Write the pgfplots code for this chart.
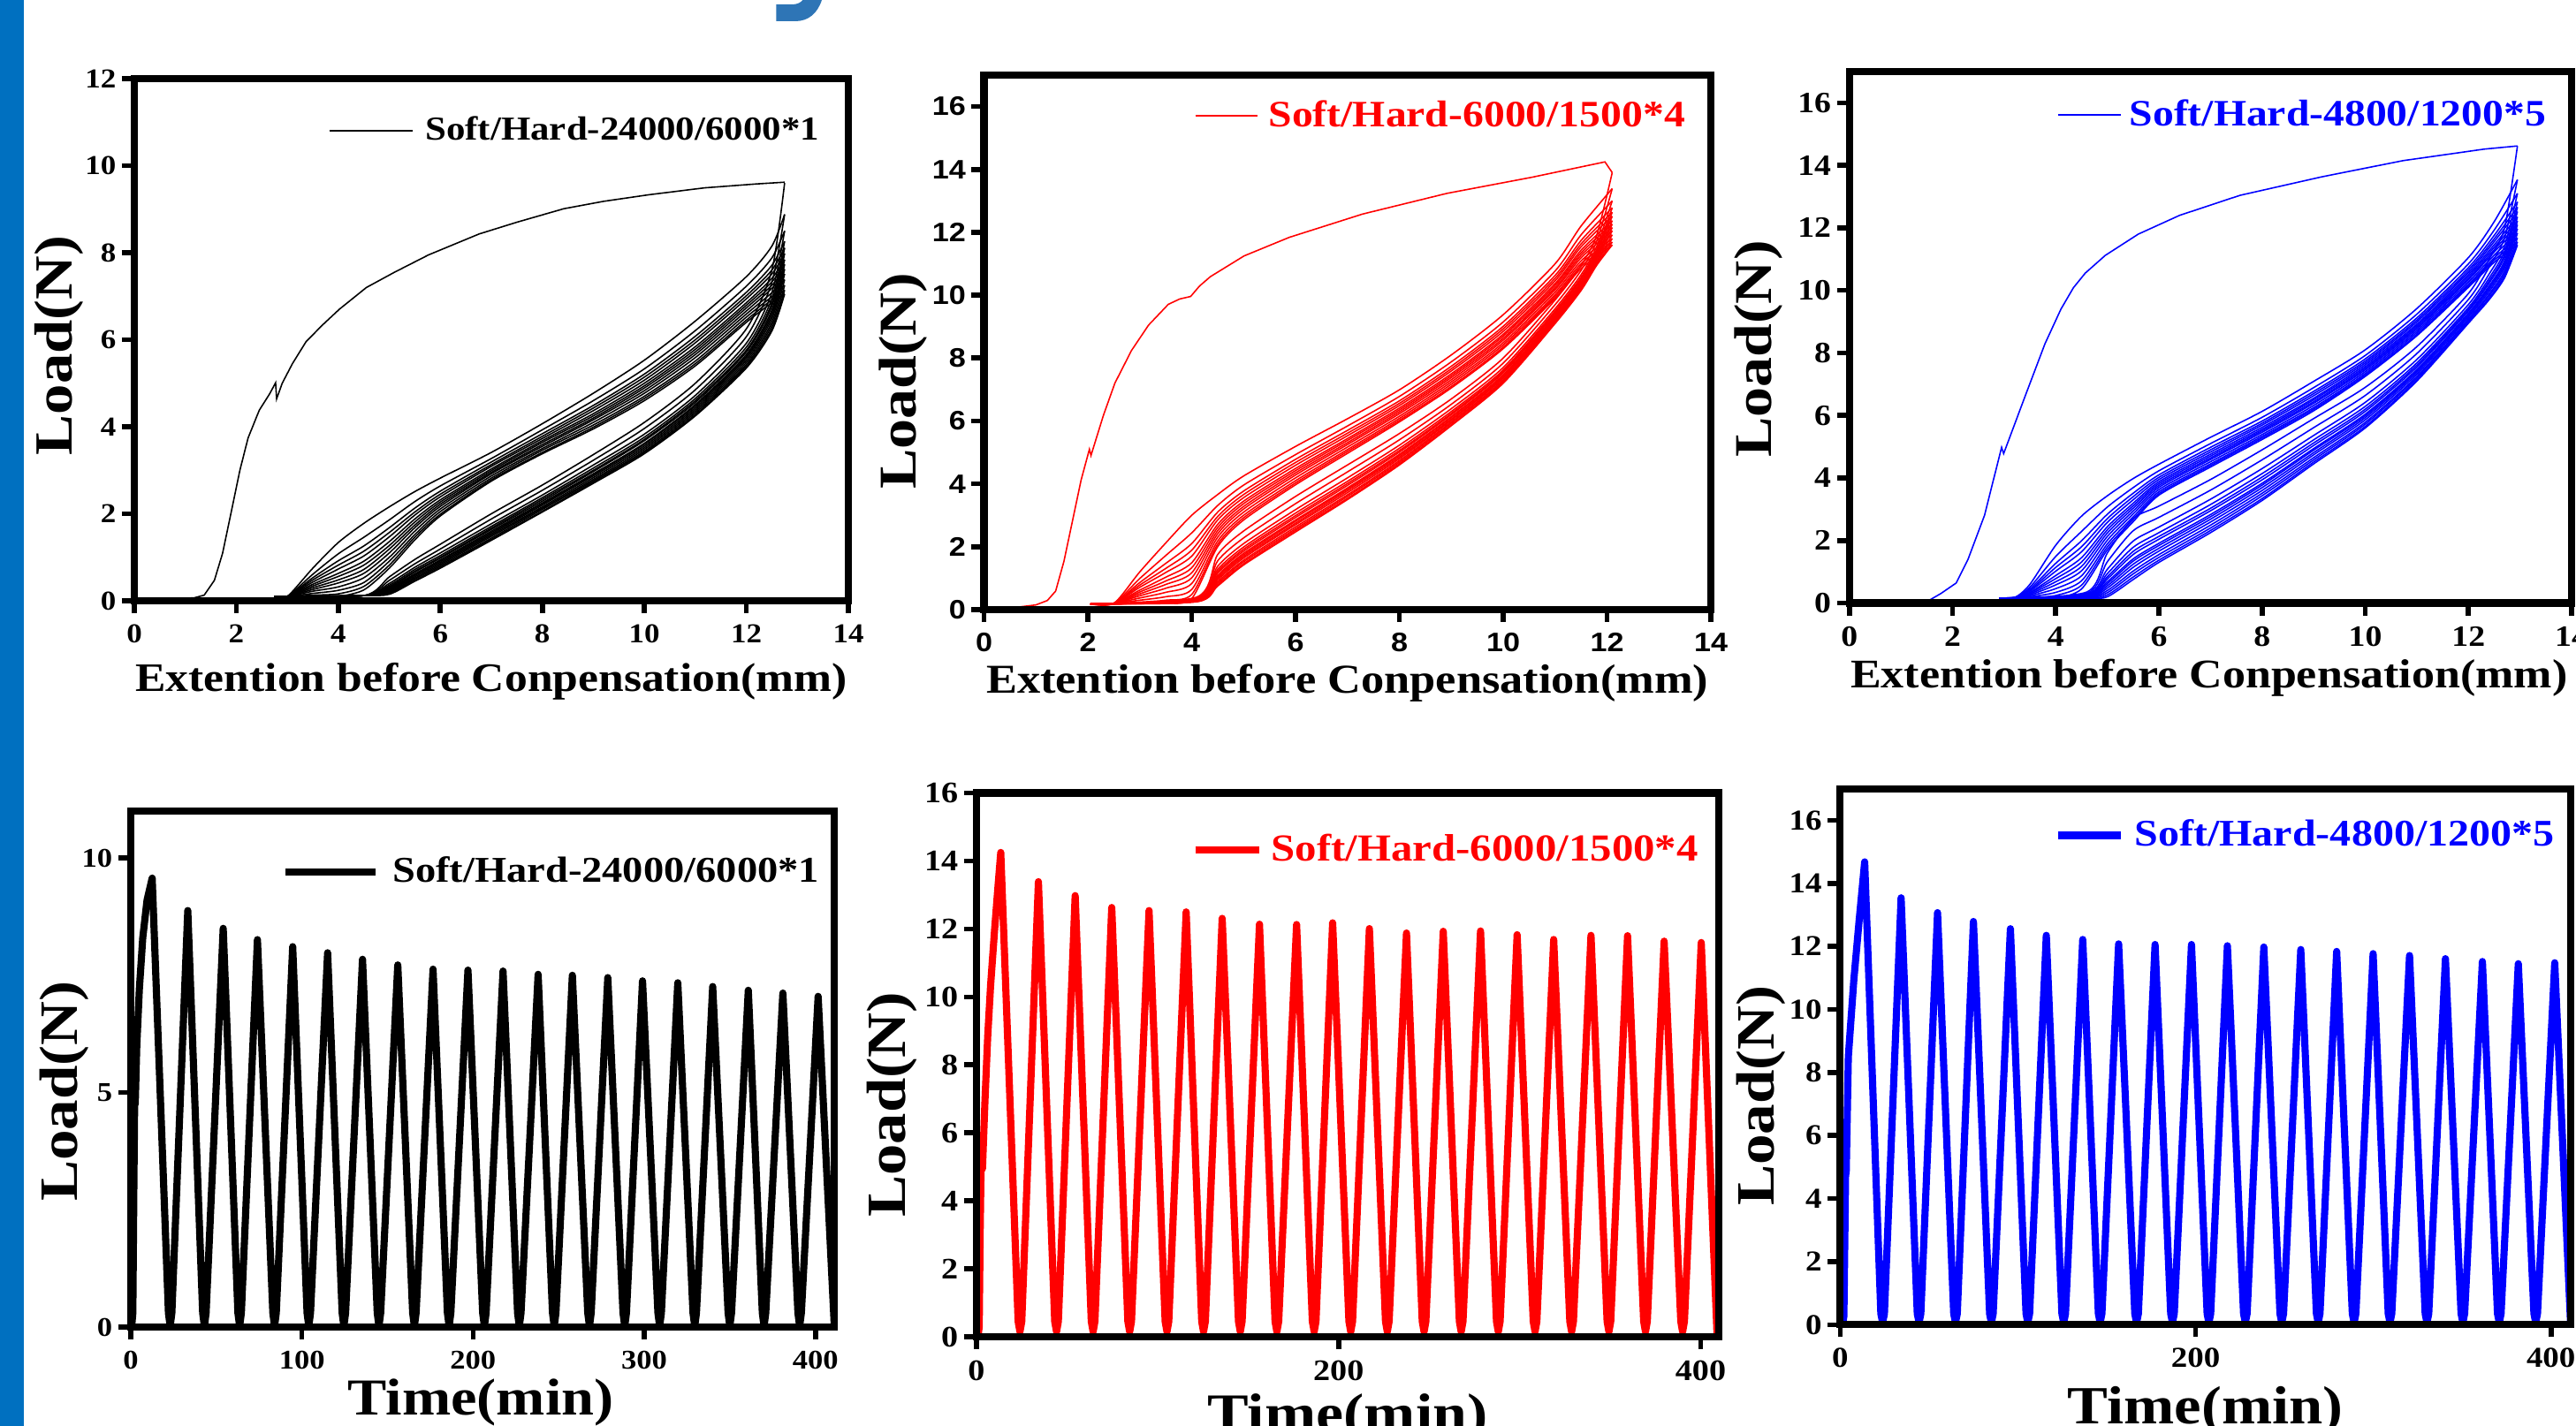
\documentclass[border=0pt]{standalone}
\usepackage{fontspec}
\setmainfont{Liberation Serif}[FakeStretch=1.13]
\newfontfamily\sansb{Liberation Sans}[FakeStretch=1.13]
\usepackage{pgfplots}
\usepackage{pgfplotstable}
\pgfplotsset{compat=1.18}
\newcommand\fs[1]{\fontsize{#1}{#1}\selectfont\bfseries}
\definecolor{barblue}{RGB}{0,112,192}
\definecolor{glyphblue}{RGB}{46,117,182}

\pgfplotsset{
  panel/.style={
    scale only axis, axis on top, anchor=south west,
    axis line style={line width=2.3pt},
    tick align=outside, tick pos=left,
    major tick length=4pt,
    major tick style={line width=1.6pt,black},
    /pgf/number format/assume math mode=true,
    xticklabel style={anchor=north,inner sep=0pt,yshift=-3.4pt},
    yticklabel style={anchor=east,inner sep=0pt,xshift=-1.7pt},
    legend cell align=left,
    legend style={draw=none,fill=none,inner sep=0pt,outer sep=0pt,anchor=west,
      nodes={inner sep=0pt}},
  },
  toploop/.style={line width=0.45pt, forget plot, smooth, tension=0.45},
  timeline/.style={line width=2.3pt, line join=round},
}

% ---------- Panel 1 (black) loops ----------
\pgfplotstableread{
X a b c d e f g h i j k l m
2.75 0.10 0.10 0.10 0.10 0.10 0.10 0.10 0.10 0.10 0.10 0.10 0.10 0.10
3.0 0.10 0.10 0.10 0.10 0.10 0.10 0.10 0.10 0.10 0.10 0.10 0.10 0.10
3.5 0.75 0.61 0.53 0.48 0.43 0.38 0.34 0.30 0.26 0.22 0.17 0.13 0.10
4.0 1.34 1.08 0.92 0.82 0.73 0.63 0.56 0.48 0.41 0.32 0.24 0.16 0.10
4.5 1.78 1.46 1.26 1.14 1.03 0.91 0.82 0.72 0.63 0.53 0.42 0.33 0.25
5.0 2.16 1.86 1.68 1.57 1.47 1.36 1.27 1.19 1.10 1.00 0.91 0.82 0.75
5.5 2.51 2.28 2.13 2.04 1.97 1.88 1.81 1.74 1.68 1.60 1.52 1.46 1.40
6.0 2.82 2.64 2.52 2.45 2.39 2.32 2.27 2.22 2.17 2.11 2.05 1.99 1.95
7.0 3.41 3.27 3.19 3.13 3.09 3.03 2.99 2.95 2.92 2.87 2.82 2.78 2.75
8.0 4.07 3.93 3.84 3.78 3.73 3.68 3.64 3.59 3.55 3.50 3.46 3.41 3.38
9.0 4.77 4.60 4.49 4.43 4.37 4.30 4.25 4.20 4.16 4.10 4.04 3.99 3.95
10.0 5.53 5.33 5.21 5.14 5.07 5.00 4.94 4.89 4.83 4.77 4.70 4.65 4.60
11.0 6.43 6.21 6.08 6.00 5.93 5.84 5.78 5.72 5.66 5.59 5.51 5.45 5.40
12.0 7.45 7.23 7.09 7.01 6.94 6.85 6.79 6.73 6.66 6.59 6.52 6.45 6.40
12.5 8.15 7.88 7.71 7.60 7.51 7.41 7.33 7.25 7.18 7.08 6.99 6.92 6.85
12.75 8.88 8.50 8.26 8.11 7.98 7.84 7.73 7.62 7.51 7.38 7.25 7.14 7.05
}\ldK
\pgfplotstableread{
X o a b c d e f g h i j k l m
12.75 9.60 8.88 8.50 8.26 8.11 7.98 7.84 7.73 7.62 7.51 7.38 7.25 7.14 7.05
12.5 7.60 7.32 7.08 6.94 6.84 6.77 6.68 6.62 6.55 6.48 6.40 6.33 6.26 6.20
12.0 6.25 6.07 5.92 5.83 5.76 5.72 5.66 5.62 5.58 5.53 5.48 5.43 5.39 5.35
11.0 5.00 4.85 4.72 4.65 4.60 4.56 4.51 4.48 4.44 4.40 4.36 4.32 4.28 4.25
10.0 4.10 3.96 3.83 3.76 3.71 3.68 3.62 3.60 3.56 3.52 3.48 3.44 3.41 3.38
9.0 3.36 3.23 3.12 3.05 3.00 2.97 2.92 2.90 2.87 2.83 2.79 2.76 2.73 2.70
8.0 2.66 2.54 2.43 2.37 2.33 2.29 2.25 2.23 2.20 2.16 2.13 2.10 2.06 2.04
7.0 2.00 1.88 1.77 1.71 1.67 1.64 1.60 1.57 1.54 1.51 1.48 1.44 1.41 1.39
6.0 1.30 1.19 1.10 1.04 1.00 0.98 0.94 0.92 0.89 0.86 0.83 0.80 0.77 0.75
5.5 0.95 0.85 0.77 0.72 0.68 0.66 0.62 0.60 0.58 0.55 0.52 0.50 0.47 0.45
5.0 0.55 0.47 0.40 0.36 0.33 0.31 0.29 0.27 0.25 0.23 0.21 0.19 0.17 0.15
4.5 0.12 0.12 0.12 0.12 0.12 0.12 0.12 0.12 0.12 0.12 0.12 0.12 0.12 0.12
2.75 0.10 0.10 0.10 0.10 0.10 0.10 0.10 0.10 0.10 0.10 0.10 0.10 0.10 0.10
}\ulK

% ---------- Panel 2 (red) loops ----------
\pgfplotstableread{
X a b c d e f g h i j k l m
2.05 0.18 0.18 0.18 0.18 0.18 0.18 0.18 0.18 0.18 0.18 0.18 0.18 0.18
2.5 0.20 0.20 0.20 0.20 0.20 0.20 0.20 0.20 0.20 0.20 0.20 0.20 0.20
3.0 1.20 0.99 0.86 0.78 0.71 0.62 0.56 0.50 0.44 0.37 0.30 0.24 0.19
3.5 2.12 1.72 1.47 1.31 1.18 1.03 0.91 0.80 0.68 0.55 0.41 0.30 0.20
4.0 3.00 2.44 2.10 1.89 1.70 1.49 1.33 1.17 1.01 0.83 0.64 0.48 0.35
4.5 3.66 3.31 3.10 2.96 2.85 2.71 2.61 2.51 2.41 2.30 2.18 2.08 2.00
5.0 4.25 3.96 3.77 3.66 3.56 3.45 3.37 3.28 3.20 3.10 3.00 2.92 2.85
6.0 5.19 4.93 4.78 4.68 4.59 4.49 4.42 4.35 4.28 4.19 4.10 4.03 3.97
7.0 6.07 5.84 5.70 5.61 5.53 5.44 5.38 5.31 5.25 5.17 5.09 5.03 4.97
8.0 6.99 6.78 6.64 6.56 6.49 6.41 6.35 6.29 6.23 6.15 6.08 6.02 5.97
9.0 8.10 7.88 7.74 7.66 7.59 7.50 7.44 7.38 7.31 7.24 7.17 7.10 7.05
10.0 9.38 9.15 9.01 8.93 8.85 8.76 8.70 8.63 8.57 8.49 8.42 8.35 8.30
11.0 11.00 10.77 10.63 10.54 10.46 10.37 10.31 10.24 10.18 10.10 10.02 9.96 9.90
11.5 12.20 11.92 11.74 11.63 11.54 11.43 11.35 11.27 11.19 11.09 11.00 10.92 10.85
12.1 13.39 13.00 12.78 12.64 12.51 12.37 12.26 12.15 12.05 11.92 11.80 11.69 11.60
}\ldR
\pgfplotstableread{
X o a b c d e f g h i j k l m
12.1 13.90 13.39 13.00 12.78 12.64 12.51 12.37 12.26 12.15 12.05 11.92 11.80 11.69 11.60
11.8 11.90 11.71 11.55 11.45 11.39 11.34 11.27 11.24 11.19 11.14 11.08 11.04 10.99 10.95
11.5 10.95 10.79 10.65 10.57 10.52 10.48 10.42 10.39 10.35 10.31 10.26 10.22 10.18 10.15
11.0 9.85 9.70 9.57 9.50 9.45 9.41 9.36 9.33 9.29 9.25 9.21 9.17 9.13 9.10
10.0 8.00 7.84 7.70 7.62 7.57 7.53 7.47 7.44 7.40 7.36 7.31 7.27 7.23 7.20
9.0 6.70 6.53 6.39 6.30 6.24 6.20 6.14 6.11 6.06 6.02 5.97 5.93 5.88 5.85
8.0 5.60 5.40 5.23 5.13 5.06 5.01 4.94 4.90 4.85 4.80 4.74 4.69 4.64 4.60
7.0 4.60 4.38 4.19 4.08 4.01 3.95 3.87 3.83 3.78 3.72 3.65 3.60 3.54 3.50
6.0 3.60 3.37 3.18 3.07 2.99 2.93 2.85 2.81 2.75 2.70 2.63 2.57 2.52 2.47
5.0 2.50 2.28 2.10 1.99 1.92 1.86 1.79 1.74 1.69 1.64 1.57 1.52 1.46 1.42
4.5 1.75 1.55 1.38 1.28 1.21 1.16 1.09 1.05 1.00 0.95 0.89 0.84 0.79 0.75
4.1 0.40 0.37 0.34 0.33 0.32 0.31 0.30 0.30 0.29 0.28 0.27 0.26 0.26 0.25
2.05 0.18 0.18 0.18 0.18 0.18 0.18 0.18 0.18 0.18 0.18 0.18 0.18 0.18 0.18
}\ulR

% ---------- Panel 3 (blue) loops ----------
\pgfplotstableread{
X a b c d e f g h i j k l m
2.9 0.15 0.15 0.15 0.15 0.15 0.15 0.15 0.15 0.15 0.15 0.15 0.15 0.15
3.2 0.17 0.17 0.17 0.17 0.17 0.17 0.17 0.17 0.17 0.17 0.17 0.17 0.17
3.5 0.60 0.51 0.45 0.41 0.38 0.34 0.32 0.29 0.26 0.23 0.20 0.17 0.15
4.0 1.85 1.49 1.27 1.14 1.02 0.88 0.78 0.68 0.58 0.46 0.34 0.24 0.15
4.5 2.78 2.29 1.99 1.80 1.64 1.45 1.31 1.17 1.03 0.87 0.71 0.57 0.45
5.0 3.43 3.07 2.84 2.70 2.58 2.44 2.34 2.24 2.13 2.01 1.89 1.79 1.70
5.5 3.98 3.69 3.51 3.40 3.30 3.19 3.11 3.03 2.94 2.85 2.75 2.67 2.60
6.0 4.44 4.23 4.10 4.02 3.95 3.88 3.82 3.76 3.70 3.63 3.56 3.50 3.45
7.0 5.30 5.10 4.98 4.90 4.83 4.76 4.70 4.64 4.59 4.52 4.45 4.40 4.35
8.0 6.13 5.94 5.82 5.75 5.69 5.62 5.56 5.51 5.46 5.39 5.33 5.28 5.23
9.0 7.09 6.89 6.77 6.70 6.63 6.55 6.50 6.44 6.39 6.32 6.25 6.20 6.15
10.0 8.10 7.92 7.81 7.74 7.68 7.62 7.56 7.51 7.46 7.40 7.34 7.29 7.25
11.0 9.42 9.24 9.12 9.05 8.99 8.92 8.87 8.82 8.77 8.71 8.65 8.59 8.55
12.0 11.05 10.85 10.73 10.65 10.58 10.51 10.45 10.39 10.34 10.27 10.20 10.15 10.10
12.5 12.20 11.93 11.76 11.65 11.56 11.46 11.38 11.30 11.23 11.13 11.04 10.97 10.90
12.95 13.54 13.10 12.83 12.66 12.52 12.35 12.22 12.10 11.97 11.83 11.68 11.55 11.45
}\ldB
\pgfplotstableread{
X o a b c d e f g h i j k l m
12.95 14.62 13.54 13.10 12.83 12.66 12.52 12.35 12.22 12.10 11.97 11.83 11.68 11.55 11.45
12.7 12.00 11.68 11.41 11.25 11.14 11.06 10.94 10.88 10.80 10.72 10.62 10.54 10.46 10.40
12.4 11.00 10.74 10.52 10.39 10.30 10.23 10.14 10.09 10.03 9.96 9.88 9.82 9.75 9.70
12.0 9.90 9.71 9.55 9.45 9.39 9.34 9.27 9.24 9.19 9.14 9.08 9.04 8.99 8.95
11.0 8.20 7.98 7.79 7.68 7.61 7.55 7.47 7.43 7.38 7.32 7.25 7.20 7.14 7.10
10.0 6.90 6.64 6.42 6.29 6.20 6.13 6.04 5.99 5.93 5.86 5.78 5.72 5.65 5.60
9.0 5.90 5.61 5.36 5.22 5.12 5.04 4.94 4.89 4.81 4.74 4.65 4.58 4.51 4.45
8.0 4.90 4.58 4.30 4.14 4.03 3.94 3.83 3.77 3.69 3.60 3.51 3.43 3.34 3.28
7.0 3.95 3.61 3.32 3.15 3.03 2.95 2.83 2.76 2.68 2.59 2.49 2.40 2.32 2.25
6.0 3.10 2.74 2.43 2.25 2.13 2.04 1.91 1.84 1.75 1.66 1.55 1.46 1.37 1.30
5.5 2.70 2.31 1.98 1.78 1.65 1.55 1.41 1.34 1.24 1.14 1.02 0.93 0.83 0.75
5.0 1.60 1.32 1.08 0.94 0.84 0.77 0.68 0.62 0.55 0.48 0.40 0.33 0.26 0.20
4.6 0.35 0.31 0.28 0.26 0.24 0.23 0.22 0.21 0.20 0.19 0.18 0.17 0.16 0.15
2.9 0.15 0.15 0.15 0.15 0.15 0.15 0.15 0.15 0.15 0.15 0.15 0.15 0.15 0.15
}\ulB

\begin{document}
\begin{tikzpicture}
\path[use as bounding box] (0,0) rectangle (29.15,-16.14);
\fill[barblue] (0,0) rectangle (0.27,-16.14);
\fill[glyphblue] (8.783,-0.05) -- (8.967,-0.05) .. controls (9.02,-0.05) and (9.06,-0.03) .. (9.083,0) -- (9.30,0) .. controls (9.25,-0.15) and (9.15,-0.24) .. (9.00,-0.24) -- (8.783,-0.24) -- cycle;

% ===== Panel 1 =====
\begin{axis}[panel, at={(1.52cm,-6.80cm)}, width=8.08cm, height=5.91cm,
  xmin=0, xmax=14, ymin=0, ymax=12, xtick={0,2,...,14}, ytick={0,2,...,12},
  tick label style={font=\fs{8.8}},
  xlabel={Extention before Conpensation(mm)}, ylabel={Load(N)},
  every axis x label/.style={at={(axis description cs:0.5,-0.1726)},anchor=base,font=\fs{13}},
  every axis y label/.style={at={(axis description cs:-0.105,0.489)},rotate=90,anchor=center,font=\fs{17.3}},
  legend style={at={(axis description cs:0.272,0.900)},font=\fs{10.8},column sep=0.14cm},
  legend image code/.code={\draw[#1] (0cm,0cm) -- (0.94cm,0cm);},
]
\addplot[black, line width=0.45pt] coordinates {(0,0.02) (0.6,0.03) (1.18,0.07) (1.37,0.13) (1.57,0.47) (1.73,1.09) (1.9,2.04) (2.07,3.0) (2.23,3.74) (2.45,4.38) (2.65,4.75) (2.77,5.01) (2.79,4.64) (2.9,5.0) (3.1,5.45) (3.37,5.96) (3.7,6.35) (4.02,6.7) (4.55,7.2) (5.1,7.55) (5.77,7.95) (6.76,8.43) (7.5,8.7) (8.42,9.01) (9.2,9.18) (10.08,9.33) (11.18,9.49) (12.2,9.58) (12.75,9.62)};
\addlegendentry{Soft/Hard-24000/6000*1}
\pgfplotsinvokeforeach{a,b,c,d,e,f,g,h,i,j,k,l,m}{\addplot[black,toploop] table[x=X,y=#1]{\ldK};}
\pgfplotsinvokeforeach{o,a,b,c,d,e,f,g,h,i,j,k,l,m}{\addplot[black,toploop] table[x=X,y=#1]{\ulK};}
\end{axis}

% ===== Panel 2 =====
\begin{axis}[panel, at={(11.135cm,-6.90cm)}, width=8.225cm, height=6.05cm,
  xmin=0, xmax=14, ymin=0, ymax=17, xtick={0,2,...,14}, ytick={0,2,...,16},
  tick label style={font=\sansb\fontsize{8.6}{9}\selectfont\bfseries},
  xlabel={Extention before Conpensation(mm)}, ylabel={Load(N)},
  every axis x label/.style={at={(axis description cs:0.5,-0.157)},anchor=base,font=\fs{13.2}},
  every axis y label/.style={at={(axis description cs:-0.111,0.428)},rotate=90,anchor=center,font=\fs{17.1}},
  legend style={at={(axis description cs:0.29,0.924)},font=\fs{12},text=red,column sep=0.12cm},
  legend image code/.code={\draw[#1] (0cm,0cm) -- (0.70cm,0cm);},
]
\addplot[red, line width=0.45pt] coordinates {(0,0.02) (0.5,0.05) (1.0,0.15) (1.22,0.29) (1.38,0.59) (1.54,1.54) (1.7,2.79) (1.87,4.12) (2.03,5.1) (2.06,4.9) (2.3,6.18) (2.52,7.2) (2.84,8.24) (3.17,9.05) (3.55,9.71) (3.77,9.88) (3.98,9.96) (4.15,10.29) (4.36,10.59) (5.01,11.25) (5.88,11.84) (7.29,12.58) (8.92,13.24) (10.55,13.75) (11.96,14.24) (12.1,13.9)};
\addlegendentry{Soft/Hard-6000/1500*4}
\pgfplotsinvokeforeach{a,b,c,d,e,f,g,h,i,j,k,l,m}{\addplot[red,toploop] table[x=X,y=#1]{\ldR};}
\pgfplotsinvokeforeach{o,a,b,c,d,e,f,g,h,i,j,k,l,m}{\addplot[red,toploop] table[x=X,y=#1]{\ulR};}
\end{axis}

% ===== Panel 3 =====
\begin{axis}[panel, at={(20.928cm,-6.825cm)}, width=8.172cm, height=6.015cm,
  xmin=0, xmax=14, ymin=0, ymax=17, xtick={0,2,...,14}, ytick={0,2,...,16},
  tick label style={font=\fs{9.5}},
  xlabel={Extention before Conpensation(mm)}, ylabel={Load(N)},
  every axis x label/.style={at={(axis description cs:0.498,-0.160)},anchor=base,font=\fs{13.1}},
  every axis y label/.style={at={(axis description cs:-0.126,0.478)},rotate=90,anchor=center,font=\fs{17.1}},
  legend style={at={(axis description cs:0.288,0.9185)},font=\fs{12},text=blue,column sep=0.09cm},
  legend image code/.code={\draw[#1] (0cm,0cm) -- (0.71cm,0cm);},
]
\addplot[blue, line width=0.45pt] coordinates {(0,0.02) (0.8,0.04) (1.56,0.1) (1.77,0.3) (2.07,0.64) (2.3,1.4) (2.62,2.81) (2.95,4.98) (2.99,4.78) (3.4,6.59) (3.79,8.29) (4.1,9.4) (4.34,10.08) (4.57,10.55) (4.96,11.12) (5.6,11.8) (6.4,12.4) (7.57,13.04) (9.15,13.63) (10.73,14.15) (12.31,14.52) (12.95,14.62)};
\addlegendentry{Soft/Hard-4800/1200*5}
\pgfplotsinvokeforeach{a,b,c,d,e,f,g,h,i,j,k,l,m}{\addplot[blue,toploop] table[x=X,y=#1]{\ldB};}
\pgfplotsinvokeforeach{o,a,b,c,d,e,f,g,h,i,j,k,l,m}{\addplot[blue,toploop] table[x=X,y=#1]{\ulB};}
\end{axis}

% ===== Panel 4 =====
\begin{axis}[panel, at={(1.48cm,-15.02cm)}, width=7.96cm, height=5.84cm,
  xmin=0, xmax=411, ymin=0, ymax=11, xtick={0,100,...,400}, ytick={0,5,10},
  tick label style={font=\fs{8.7}},
  xlabel={Time(min)}, ylabel={Load(N)},
  every axis x label/.style={at={(axis description cs:0.4975,-0.170)},anchor=base,font=\fs{16.7}},
  every axis y label/.style={at={(axis description cs:-0.094,0.457)},rotate=90,anchor=center,font=\fs{17.4}},
  legend style={at={(axis description cs:0.215,0.882)},font=\fs{11.7},column sep=0.15cm},
  legend image code/.code={\draw[#1] (0cm,0cm) -- (1.02cm,0cm);},
]
\addplot[black, timeline] coordinates {(0.5,0) (1.2,0.3) (1.8,3.0) (2.3,5.0) (2.6,4.75) (3.5,6.0) (5,7.2) (7,8.3) (9.5,9.1) (12.5,9.57)
(22,0.3) (23,0.02) (24,0.3) (33.3,8.88)
(42,0.3) (43,0.02) (44,0.3) (54,8.50)
(62.6,0.3) (63.6,0.02) (64.6,0.3) (74,8.26)
(83,0.3) (84,0.02) (85,0.3) (94.6,8.11)
(103,0.3) (104,0.02) (105,0.3) (115,7.98)
(123.5,0.3) (124.5,0.02) (125.5,0.3) (135.4,7.84)
(144,0.3) (145,0.02) (146,0.3) (156,7.72)
(164.7,0.3) (165.7,0.02) (166.7,0.3) (176.6,7.63)
(185,0.3) (186,0.02) (187,0.3) (197,7.61)
(205.6,0.3) (206.6,0.02) (207.6,0.3) (217.5,7.59)
(226,0.3) (227,0.02) (228,0.3) (238,7.52)
(246.4,0.3) (247.4,0.02) (248.4,0.3) (258,7.50)
(267,0.3) (268,0.02) (269,0.3) (278.7,7.45)
(287.6,0.3) (288.6,0.02) (289.6,0.3) (299,7.38)
(308,0.3) (309,0.02) (310,0.3) (319.6,7.34)
(328.5,0.3) (329.5,0.02) (330.5,0.3) (340,7.26)
(349,0.3) (350,0.02) (351,0.3) (360.8,7.18)
(369,0.3) (370,0.02) (371,0.3) (381,7.12)
(389.8,0.3) (390.8,0.02) (391.8,0.3) (401.6,7.05)
(411,0.05)};
\addlegendentry{Soft/Hard-24000/6000*1}
\end{axis}

% ===== Panel 5 =====
\begin{axis}[panel, at={(11.05cm,-15.13cm)}, width=8.40cm, height=6.155cm,
  xmin=0, xmax=410, ymin=0, ymax=16, xtick={0,200,400}, ytick={0,2,...,16},
  tick label style={font=\fs{9.6}},
  xlabel={Time(min)}, ylabel={Load(N)},
  every axis x label/.style={at={(axis description cs:0.5,-0.175)},anchor=base,font=\fs{17.6}},
  every axis y label/.style={at={(axis description cs:-0.114,0.427)},rotate=90,anchor=center,font=\fs{17.8}},
  legend style={at={(axis description cs:0.29,0.895)},font=\fs{12.3},text=red,column sep=0.10cm},
  legend image code/.code={\draw[#1] (0cm,0cm) -- (0.72cm,0cm);},
]
\addplot[red, timeline] coordinates {(0.8,0) (1.5,0.3) (2.0,3.0) (2.5,4.9) (3.3,4.95) (4.7,6.98) (6.2,8.85) (7.8,10.35) (10,11.98) (11.8,13.2) (13.4,14.25)
(23,0.45) (24,0.15) (25,0.45) (34.2,13.39)
(43.2,0.45) (44.2,0.15) (45.2,0.45) (54.5,12.98)
(63.4,0.45) (64.4,0.15) (65.4,0.45) (74.7,12.63)
(83.6,0.45) (84.6,0.15) (85.6,0.45) (95.3,12.54)
(104.2,0.45) (105.2,0.15) (106.2,0.45) (115.8,12.50)
(124.4,0.45) (125.4,0.15) (126.4,0.45) (135.7,12.31)
(144.7,0.45) (145.7,0.15) (146.7,0.45) (156.3,12.14)
(164.9,0.45) (165.9,0.15) (166.9,0.45) (176.8,12.13)
(185.5,0.45) (186.5,0.15) (187.5,0.45) (196.7,12.18)
(205.7,0.45) (206.7,0.15) (207.7,0.45) (217,12.01)
(225.9,0.45) (226.9,0.15) (227.9,0.45) (237.5,11.88)
(246.2,0.45) (247.2,0.15) (248.2,0.45) (257.8,11.93)
(266.7,0.45) (267.7,0.15) (268.7,0.45) (278.4,11.94)
(287.2,0.45) (288.2,0.15) (289.2,0.45) (298.6,11.83)
(307.5,0.45) (308.5,0.15) (309.5,0.45) (318.8,11.69)
(327.7,0.45) (328.7,0.15) (329.7,0.45) (339.4,11.81)
(348.3,0.45) (349.3,0.15) (350.3,0.45) (359.6,11.80)
(368.5,0.45) (369.5,0.15) (370.5,0.45) (379.8,11.64)
(389,0.45) (390,0.15) (391,0.45) (400.3,11.60)
(409,0.1)};
\addlegendentry{Soft/Hard-6000/1500*4}
\end{axis}

% ===== Panel 6 =====
\begin{axis}[panel, at={(20.823cm,-14.994cm)}, width=8.265cm, height=6.067cm,
  xmin=0, xmax=411, ymin=0, ymax=17, xtick={0,200,400}, ytick={0,2,...,16},
  tick label style={font=\fs{9.3}},
  xlabel={Time(min)}, ylabel={Load(N)},
  every axis x label/.style={at={(axis description cs:0.5,-0.184)},anchor=base,font=\fs{17.3}},
  every axis y label/.style={at={(axis description cs:-0.108,0.4275)},rotate=90,anchor=center,font=\fs{17.4}},
  legend style={at={(axis description cs:0.294,0.913)},font=\fs{12.1},text=blue,column sep=0.11cm},
  legend image code/.code={\draw[#1] (0cm,0cm) -- (0.71cm,0cm);},
]
\addplot[blue, timeline] coordinates {(0.8,0) (1.6,0.1) (2.1,0.27) (3.1,4.93) (3.4,4.8) (4.6,8.5) (7.7,10.94) (10.7,12.83) (13.8,14.68)
(22.9,0.35) (23.9,0.07) (24.9,0.35) (34.3,13.54)
(43.4,0.35) (44.4,0.07) (45.4,0.35) (54.8,13.07)
(63.9,0.35) (64.9,0.07) (65.9,0.35) (75,12.79)
(84.1,0.35) (85.1,0.07) (86.1,0.35) (95.8,12.56)
(104.6,0.35) (105.6,0.07) (106.6,0.35) (116,12.35)
(124.8,0.35) (125.8,0.07) (126.8,0.35) (136.5,12.22)
(145.3,0.35) (146.3,0.07) (147.3,0.35) (156.7,12.08)
(165.8,0.35) (166.8,0.07) (167.8,0.35) (177.2,12.06)
(186,0.35) (187,0.07) (188,0.35) (197.7,12.06)
(206.5,0.35) (207.5,0.07) (208.5,0.35) (217.9,12.02)
(227,0.35) (228,0.07) (229,0.35) (238.4,11.98)
(247.5,0.35) (248.5,0.07) (249.5,0.35) (259.2,11.90)
(268,0.35) (269,0.07) (270,0.35) (279.4,11.84)
(288.2,0.35) (289.2,0.07) (290.2,0.35) (299.9,11.77)
(308.4,0.35) (309.4,0.07) (310.4,0.35) (320.4,11.71)
(329.2,0.35) (330.2,0.07) (331.2,0.35) (340.6,11.61)
(349.4,0.35) (350.4,0.07) (351.4,0.35) (361.4,11.52)
(369.9,0.35) (370.9,0.07) (371.9,0.35) (381.6,11.45)
(390.4,0.35) (391.4,0.07) (392.4,0.35) (402.1,11.48)
(411,0.05)};
\addlegendentry{Soft/Hard-4800/1200*5}
\end{axis}
\end{tikzpicture}
\end{document}
